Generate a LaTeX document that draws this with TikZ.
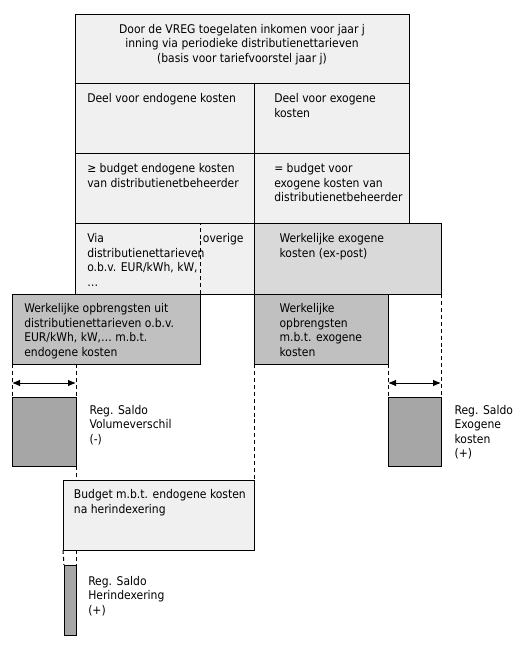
\documentclass[tikz,border=0pt]{standalone}
\usepackage{fontspec}
\setmainfont{DejaVu Sans Condensed}
\usetikzlibrary{positioning,fit,arrows.meta}
\definecolor{lichtgrijs}{HTML}{F0F0F0}
\definecolor{middengrijs}{HTML}{D9D9D9}
\definecolor{donkergrijs}{HTML}{C0C0C0}
\definecolor{saldogrijs}{HTML}{A6A6A6}
\tikzset{
  vak/.style={draw,line width=0.75pt,inner sep=0pt,outer sep=0pt},
  tekst/.style={align=left,inner sep=0pt,anchor=north west,font=\fontsize{9}{10.9}\selectfont},
  stippel/.style={line width=0.75pt,dash pattern=on 3pt off 2.2pt},
  pijl/.style={line width=0.75pt,{Latex[length=6pt,width=5pt]}-{Latex[length=6pt,width=5pt]}}
}
\begin{document}
\begin{tikzpicture}[x=0.75pt,y=-0.75pt]
    \useasboundingbox (0,0) rectangle (527,648);
    % bovenste tabel
    \node[vak,fill=lichtgrijs,fit={(75,15) (409,84)}] (hoofd) {};
    \node[vak,fill=lichtgrijs,fit={(75,84) (254,154)}] (endo) {};
    \node[vak,fill=lichtgrijs,fit={(254,84) (409,154)}] (exo) {};
    \node[vak,fill=lichtgrijs,fit={(75,154) (254,224)}] (budendo) {};
    \node[vak,fill=lichtgrijs,fit={(254,154) (409,224)}] (budexo) {};
    \node[vak,fill=lichtgrijs,fit={(75,224) (254,294)}] (via) {};
    \node[vak,fill=middengrijs,fit={(254,224) (441,294)}] (werkexo) {};
    % opbrengsten
    \node[vak,fill=donkergrijs,fit={(12,294) (200,364)}] (opbrendo) {};
    \node[vak,fill=donkergrijs,fit={(254,294) (388,364)}] (opbrexo) {};
    % saldi
    \node[vak,fill=saldogrijs,fit={(12,397) (76,466)}] (saldovol) {};
    \node[vak,fill=saldogrijs,fit={(388,397) (441,466)}] (saldoexo) {};
    \node[vak,fill=lichtgrijs,fit={(63,480) (254,550)}] (budher) {};
    \node[vak,fill=saldogrijs,fit={(64,565) (76,635)}] (saldoher) {};

    % teksten
    \node[tekst,align=center,anchor=north,below=6.5pt of hoofd.north] (thoofd)
        {Door de VREG toegelaten inkomen voor jaar j\\inning via periodieke distributienettarieven\\(basis voor tariefvoorstel jaar j)};
    \node[tekst,below right=7pt and 9pt of endo.north west] (tendo) {Deel voor endogene kosten};
    \node[tekst,below right=7pt and 15pt of exo.north west] (texo) {Deel voor exogene\\kosten};
    \node[tekst,below right=7pt and 9pt of budendo.north west] (tbudendo) {≥ budget endogene kosten\\van distributienetbeheerder};
    \node[tekst,below right=7pt and 15pt of budexo.north west] (tbudexo) {= budget voor\\exogene kosten van\\distributienetbeheerder};
    \node[tekst,below right=7pt and 9pt of via.north west] (tvia) {Via\\distributienettarieven\\o.b.v. EUR/kWh, kW,\\\dots};
    \node[tekst,below right=7pt and 2pt of opbrendo.north east |- via.north] (toverig) {overige};
    \node[tekst,below right=7pt and 19pt of werkexo.north west] (twerkexo) {Werkelijke exogene\\kosten (ex-post)};
    \node[tekst,below right=7pt and 9pt of opbrendo.north west] (topbrendo) {Werkelijke opbrengsten uit\\distributienettarieven o.b.v.\\EUR/kWh, kW,\dots{} m.b.t.\\endogene kosten};
    \node[tekst,below right=7pt and 19pt of opbrexo.north west] (topbrexo) {Werkelijke\\opbrengsten\\m.b.t. exogene\\kosten};
    \node[tekst,right=10pt of saldovol.north east,anchor=north west,yshift=-6pt] (tsaldovol) {Reg. Saldo\\Volumeverschil\\(-)};
    \node[tekst,right=10pt of saldoexo.north east,anchor=north west,yshift=-6pt] (tsaldoexo) {Reg. Saldo\\Exogene\\kosten\\(+)};
    \node[tekst,below right=7pt and 8pt of budher.north west] (tbudher) {Budget m.b.t. endogene kosten\\na herindexering};
    \node[tekst,right=9pt of saldoher.north east,anchor=north west,yshift=-8pt] (tsaldoher) {Reg. Saldo\\Herindexering\\(+)};

    % stippellijnen
    \draw[stippel] (opbrendo.north east) -- (opbrendo.north east |- via.north);
    \draw[stippel] (opbrendo.south west) -- (saldovol.north west);
    \draw[stippel] (saldovol.north east |- opbrendo.south) -- (saldovol.north east);
    \draw[stippel] (saldovol.south east) -- (saldovol.south east |- budher.north);
    \draw[stippel] (opbrexo.south west) -- (budher.north east);
    \draw[stippel] (opbrexo.south east) -- (saldoexo.north west);
    \draw[stippel] (werkexo.south east) -- (saldoexo.north east);
    \draw[stippel] (budher.south west) -- (saldoher.north west);
    \draw[stippel] (saldoher.north east |- budher.south) -- (saldoher.north east);

    % pijlen
    \draw[pijl] ([yshift=10.5pt]saldovol.north west) -- ([yshift=10.5pt]saldovol.north east);
    \draw[pijl] ([yshift=10.5pt]saldoexo.north west) -- ([yshift=10.5pt]saldoexo.north east);
\end{tikzpicture}
\end{document}
